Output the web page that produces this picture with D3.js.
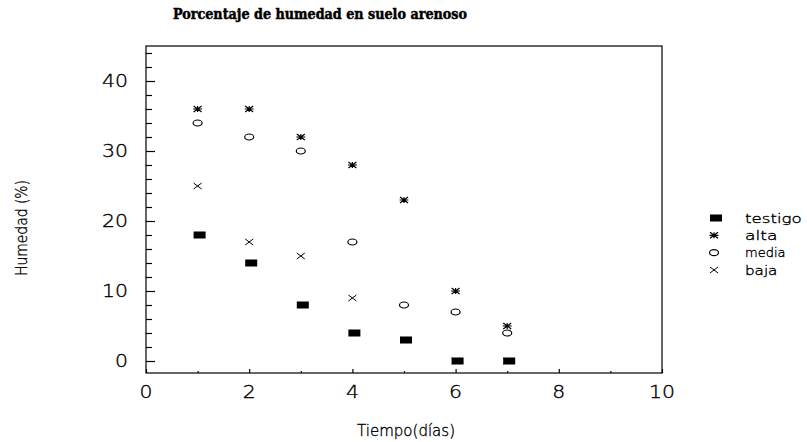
<!DOCTYPE html>
<html>
<head>
<meta charset="utf-8">
<script src="https://cdn.jsdelivr.net/npm/d3@7"></script>
<style>
  html, body { margin: 0; padding: 0; background: #fff; }
  svg { display: block; }
  .num { font-family: "DejaVu Sans", sans-serif; font-weight: 200; fill: #000; stroke: #000; stroke-width: 0.35px; }
</style>
</head>
<body>
<svg id="chart" width="807" height="442"></svg>
<script>
// Soil moisture (%) over days, four treatments
const days = [1, 2, 3, 4, 5, 6, 7];
const testigo = [18, 14, 8, 4, 3, 0, 0];
const alta = [36, 36, 32, 28, 23, 10, 5];
const media = [34, 32, 30, 17, 8, 7, 4];
const baja = [25, 17, 15, 9, 3, 0, 0];

const xMajorTicks = [0, 2, 4, 6, 8, 10];
const xMinorTicks = [1, 3, 5, 7, 9];
const yMajorTicks = [0, 10, 20, 30, 40];
const yMinorTicks = [2, 4, 6, 8, 12, 14, 16, 18, 22, 24, 26, 28, 32, 34, 36, 38, 42, 44];

const seriesNames = ["testigo", "alta", "media", "baja"];

const svg = d3.select("#chart");
const plotLeft = 146, plotRight = 662, plotTop = 46, plotBottom = 373;

const x = d3.scaleLinear().domain([0, 10]).range([plotLeft, plotRight]);
const y = d3.scaleLinear().domain([-1.714, 45]).range([plotBottom, plotTop]);

// Title
svg.append("text")
  .attr("x", 320).attr("y", 19)
  .attr("text-anchor", "middle")
  .attr("textLength", 294).attr("lengthAdjust", "spacingAndGlyphs")
  .style("font-family", "'DejaVu Serif', serif")
  .style("font-weight", "bold")
  .style("font-size", "15px")
  .style("stroke", "#000").style("stroke-width", "0.5px")
  .text("Porcentaje de humedad en suelo arenoso");

// Frame
svg.append("rect")
  .attr("x", plotLeft).attr("y", plotTop)
  .attr("width", plotRight - plotLeft).attr("height", plotBottom - plotTop)
  .attr("fill", "none").attr("stroke", "#000").attr("stroke-width", 1.2);

// Inward ticks
function styleAxis(g) {
  g.select(".domain").remove();
  g.selectAll(".tick line").attr("stroke", "#000").attr("stroke-width", 1.2);
  g.selectAll(".tick text").remove();
}
svg.append("g").attr("transform", `translate(0,${plotBottom})`)
  .call(d3.axisBottom(x).tickValues(xMajorTicks).tickSize(-4)).call(styleAxis);
svg.append("g").attr("transform", `translate(0,${plotBottom})`)
  .call(d3.axisBottom(x).tickValues(xMinorTicks).tickSize(-2)).call(styleAxis);
svg.append("g").attr("transform", `translate(${plotLeft},0)`)
  .call(d3.axisLeft(y).tickValues(yMajorTicks).tickSize(-9)).call(styleAxis);
svg.append("g").attr("transform", `translate(${plotLeft},0)`)
  .call(d3.axisLeft(y).tickValues(yMinorTicks).tickSize(-6)).call(styleAxis);

// Tick labels
svg.selectAll(".xlab").data(xMajorTicks).enter().append("text")
  .attr("class", "num")
  .attr("x", d => x(d)).attr("y", 398)
  .attr("text-anchor", "middle")
  .attr("textLength", d => String(d).length * 13).attr("lengthAdjust", "spacingAndGlyphs")
  .style("font-size", "17px")
  .text(d => d);

svg.selectAll(".ylab").data(yMajorTicks).enter().append("text")
  .attr("class", "num")
  .attr("x", 128).attr("y", d => y(d) + 6)
  .attr("text-anchor", "end")
  .attr("textLength", d => String(d).length * 13).attr("lengthAdjust", "spacingAndGlyphs")
  .style("font-size", "17px")
  .text(d => d);

// Axis titles
svg.append("text")
  .attr("class", "num")
  .attr("x", 406).attr("y", 436)
  .attr("text-anchor", "middle")
  .attr("textLength", 98).attr("lengthAdjust", "spacingAndGlyphs")
  .style("font-size", "15px")
  .text("Tiempo(días)");

svg.append("text")
  .attr("class", "num")
  .attr("transform", "translate(27,228) rotate(-90)")
  .attr("text-anchor", "middle")
  .attr("textLength", 96).attr("lengthAdjust", "spacingAndGlyphs")
  .style("font-size", "16px")
  .text("Humedad (%)");

// Marker drawers
const markers = {
  testigo: g => g.append("rect").attr("x", -4).attr("y", -3.5).attr("width", 12).attr("height", 7).attr("fill", "#000"),
  alta: g => {
    const p = "M-4,-3L4,3M-4,3L4,-3M-4.5,0L4.5,0M0,-3L0,3";
    g.append("path").attr("d", p).attr("stroke", "#000").attr("stroke-width", 1.2).attr("fill", "none");
  },
  media: g => g.append("ellipse").attr("rx", 4.5).attr("ry", 3).attr("fill", "none").attr("stroke", "#000").attr("stroke-width", 1.2),
  baja: g => g.append("path").attr("d", "M-4,-3L4,3M-4,3L4,-3").attr("stroke", "#000").attr("stroke-width", 1).attr("fill", "none")
};

const seriesValues = { testigo, alta, media, baja };
["baja", "media", "alta", "testigo"].forEach(name => {
  const vals = seriesValues[name];
  svg.append("g").selectAll("g").data(days).enter().append("g")
    .attr("transform", (d, i) => `translate(${x(d)},${y(vals[i])})`)
    .each(function () { markers[name](d3.select(this)); });
});

// Legend
const legendY = d3.scalePoint().domain(seriesNames).range([218, 270]);
seriesNames.forEach(name => {
  const g = svg.append("g").attr("transform", `translate(714,${legendY(name)})`);
  markers[name](g);
  svg.append("text")
    .attr("class", "num")
    .attr("x", 745).attr("y", legendY(name) + 4.5)
    .attr("textLength", name.length * 8.1).attr("lengthAdjust", "spacingAndGlyphs")
    .style("font-size", "13px")
    .text(name);
});
</script>
</body>
</html>
